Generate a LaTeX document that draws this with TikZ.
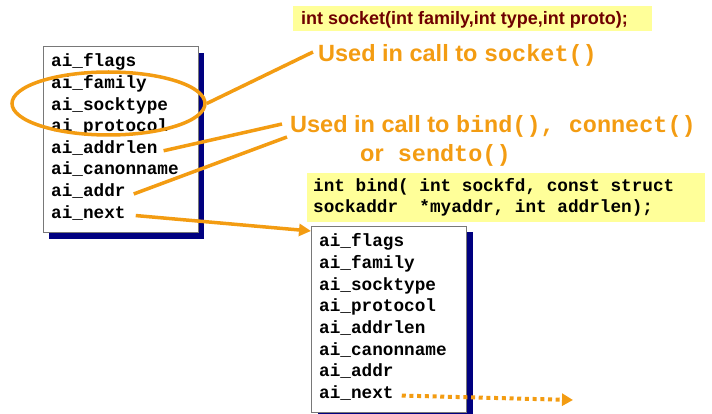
\documentclass[tikz,border=0pt]{standalone}
\usepackage{fontspec}
\setmainfont{Liberation Sans}
\setmonofont{Liberation Mono}
\usetikzlibrary{arrows.meta,shapes.geometric,shadows}

\definecolor{callorange}{RGB}{243,156,18}
\definecolor{protoyellow}{RGB}{255,255,153}
\definecolor{protored}{RGB}{110,0,0}
\definecolor{shadownavy}{RGB}{0,0,128}
\definecolor{boxgray}{RGB}{120,120,120}

\begin{document}
\begin{tikzpicture}[x=1pt,y=-1pt,
  structbox/.style={draw=boxgray, line width=1pt, fill=white, inner sep=0pt,
    minimum width=155pt, minimum height=186pt,
    drop shadow={shadow xshift=6pt, shadow yshift=-6pt, fill=shadownavy, opacity=1}},
  fieldtext/.style={inner sep=0pt, anchor=base west, text=black,
    font=\fontsize{17.7}{21}\selectfont\ttfamily\bfseries},
  calltext/.style={inner sep=0pt, anchor=base west, text=callorange,
    font=\fontsize{23.5}{28}\selectfont\bfseries},
  protobox/.style={fill=protoyellow, inner sep=0pt},
  calloutline/.style={draw=callorange, line width=3.5pt},
  headed/.style={-{Triangle[length=12pt,width=12pt]}}]

\useasboundingbox (0,0) rectangle (712,414);
\clip (0,0) rectangle (712,414);

% the two addrinfo records
\node[structbox] (lbox) at (120.5,140) {};
\node[structbox] (rbox) at (389,319.5) {};
\foreach \name [count=\i] in {flags,family,socktype,protocol,addrlen,canonname,addr,next} {
  \node[fieldtext] (L\i) at (51,{67+21.6*(\i-1)}) {ai\_\name};
  \node[fieldtext] (R\i) at (319,{247+21.6*(\i-1)}) {ai\_\name};
}

% ring round family / socktype / protocol
\node[draw=callorange, line width=3.5pt, ellipse, inner sep=0pt,
      minimum width=193pt, minimum height=63pt] (fam) at (108.5,103.5) {};

% prototypes
\node[protobox, minimum width=359pt, minimum height=25pt] (sockbox) at (472.5,18.5) {};
\node[inner sep=0pt, anchor=base west, text=protored,
      font=\fontsize{18}{21}\selectfont\bfseries] (sockproto) at (301,25)
      {int socket(int family,int type,int proto);};
\node[protobox, minimum width=398pt, minimum height=49pt] (bindbox) at (506,197.5) {};
\node[fieldtext] (bind1) at (313,192) {int bind( int sockfd, const struct};
\node[fieldtext] (bind2) at (313,213) {sockaddr\ \ *myaddr, int addrlen);};

% explanations
\node[calltext] (usesock) at (318,62) {Used in call to \texttt{socket()}};
\node[calltext] (usebind) at (290,133) {Used in call to \texttt{bind(), connect()}};
\node[calltext] (useor) at (360,162) {or\texttt{ sendto()}};

% connectors
\draw[calloutline] (fam.east) -- ([shift={(-5pt,10pt)}]usesock.base west);
\draw[calloutline] ([xshift=6pt]L5.mid east) -- ([shift={(-8pt,9pt)}]usebind.base west);
\draw[calloutline] ([xshift=8pt]L7.mid east) -- ([shift={(-3pt,-4pt)}]usebind.base west);
\draw[calloutline, headed] ([xshift=10pt]L8.mid east) -- ([yshift=-5pt]rbox.north west);

\coordinate (nextout) at (573,400);
\draw[calloutline, line width=4pt, dash pattern=on 4pt off 3.7pt,
      -{Triangle[length=11pt,width=12pt]}] ([xshift=8pt]R8.mid east) -- (nextout);
\end{tikzpicture}
\end{document}
